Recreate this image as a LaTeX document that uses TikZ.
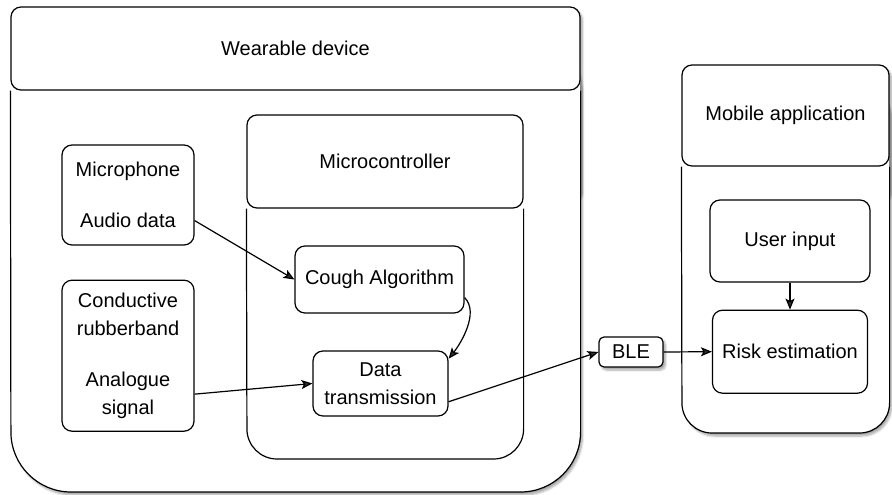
\documentclass[tikz,border=0pt]{standalone}
\usepackage{fontspec}
\setmainfont{Liberation Sans}
\usetikzlibrary{arrows.meta}
\usetikzlibrary{positioning}
\usetikzlibrary{shadows.blur}

\begin{document}
\begin{tikzpicture}[x=1pt,y=-1pt,line width=1.2pt,
    font=\fontsize{20}{28.5}\selectfont,
    every node/.style={align=center},
    box/.style={draw,rounded corners=10pt,inner sep=2pt},
    lifted/.style={fill=white,blur shadow={shadow xshift=2.5pt,shadow yshift=-3pt,shadow blur steps=6,shadow opacity=35}},
    arr/.style={-{Stealth[length=11pt,width=9pt,inset=2.5pt]}}]
  \useasboundingbox (0,0) rectangle (892,495);

  % wearable device
  \fill[lifted,rounded corners=10pt] (11,7) rectangle (580,200);
  \fill[lifted,rounded corners=60pt] (11,30) rectangle (580,492);
  \node[box,fill=white,minimum width=569pt,minimum height=83pt] (wear) at (295.5,48.5) {Wearable device};
  \draw[rounded corners=60pt] (wear.south west) -- (11,492) -| (wear.south east);

  % microcontroller
  \node[box,minimum width=276pt,minimum height=93pt] (mcu) at (385,161.5) {Microcontroller};
  \draw[rounded corners=30pt] (mcu.south west) -- (247,459) -| (mcu.south east);

  % mobile application
  \fill[lifted,rounded corners=10pt] (682,65) rectangle (889,200);
  \fill[lifted,rounded corners=30pt] (682,85) rectangle (889,433);
  \node[box,fill=white,minimum width=207pt,minimum height=101pt] (app) at (785.5,115.5) {Mobile application};
  \draw[rounded corners=30pt] (app.south west) -- (682,433) -| (app.south east);

  \node[box,minimum width=132pt,minimum height=100pt] (mic) at (128,195) {Microphone\\[22pt]Audio data};
  \node[box,minimum width=132pt,minimum height=151pt,below=34pt of mic] (band) {Conductive\\rubberband\\[22pt]Analogue\\signal};
  \node[box,minimum width=169pt,minimum height=67pt] (cough) at (379.5,279.5) {Cough Algorithm};
  \node[box,minimum width=135pt,minimum height=65pt] (tx) at (380.5,383.5) {Data\\transmission};
  \node[box,lifted,rounded corners=5pt,minimum width=64pt,minimum height=30pt] (ble) at (631,352) {BLE};
  \node[box,minimum width=160pt,minimum height=82pt] (user) at (790,241) {User input};
  \node[box,minimum width=155pt,minimum height=83pt,below=27pt of user] (risk) {Risk estimation};

  \draw[arr] (mic.-21) -- (cough.west);
  \draw[arr] (band.-30) -- (tx.west);
  \draw[arr] (cough.-12) .. controls +(15,15) and +(12,-15) .. (tx.20);
  \draw[arr] (tx.-15) -- (ble.west);
  \draw[arr] (ble.east) -- (risk.west);
  \draw[arr] (user.south) -- (risk.north);
\end{tikzpicture}
\end{document}
